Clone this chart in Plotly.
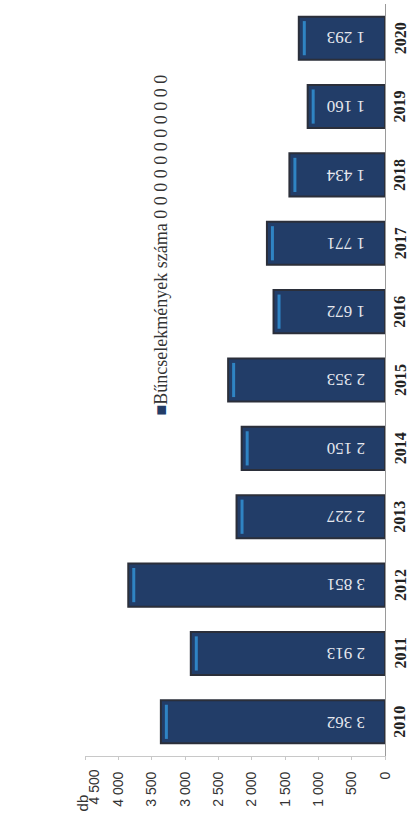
import plotly.graph_objects as go

years = ["2010", "2011", "2012", "2013", "2014", "2015", "2016", "2017", "2018", "2019", "2020"]
values = [3362, 2913, 3851, 2227, 2150, 2353, 1672, 1771, 1434, 1160, 1293]
value_labels = ["3 362", "2 913", "3 851", "2 227", "2 150", "2 353", "1 672", "1 771", "1 434", "1 160", "1 293"]
tick_vals = [0, 500, 1000, 1500, 2000, 2500, 3000, 3500, 4000, 4500]
tick_text = ["0", "500", "1 000", "1 500", "2 000", "2 500", "3 000", "3 500", "4 000", "4 500"]
series_name = "Bűncselekmények száma"
legend_suffix = "0 0 0 0 0 0 0 0 0 0 0"
axis_title = "db"

tick_font = dict(family="Liberation Sans", size=14, color="#333333")

fig = go.Figure()
fig.add_trace(go.Bar(
    y=years, x=values, orientation="h", width=0.63,
    marker=dict(color="#223d68", line=dict(color="#2b2f3a", width=2)),
    name=series_name, showlegend=False, hoverinfo="skip",
))
# light highlight stripe near the bar tips
fig.add_trace(go.Bar(
    y=years, x=[45] * len(values), base=[v - 105 for v in values], orientation="h", width=0.5,
    marker=dict(color="#2f84c4", line=dict(width=0)),
    showlegend=False, hoverinfo="skip",
))
fig.update_layout(barmode="overlay")

for i, lab in enumerate(value_labels):
    fig.add_annotation(
        x=0, y=i, xref="x", yref="y", text=lab, showarrow=False,
        textangle=180, xanchor="center", yanchor="middle", xshift=-39,
        font=dict(family="Liberation Serif", size=17, color="#e6e8ee"),
    )
for i, yr in enumerate(years):
    fig.add_annotation(
        x=1, y=i, xref="paper", yref="y", text="<b>" + yr + "</b>", showarrow=False,
        textangle=-90, xanchor="center", yanchor="middle", xshift=15,
        font=dict(family="Liberation Serif", size=16, color="#222222"),
    )

# the outermost value-axis label sits slightly inward, as in the original
fig.add_annotation(
    x=tick_vals[-1], xref="x", yref="paper", y=0, text=tick_text[-1], showarrow=False,
    textangle=-90, xanchor="center", yanchor="top", xshift=8, yshift=-12,
    font=tick_font,
)
fig.add_annotation(
    xref="paper", yref="paper", x=0.253, y=0.68, showarrow=False, textangle=-90,
    xanchor="center", yanchor="middle",
    text='<span style="color:#223d68">■</span>' + series_name + " " + legend_suffix,
    font=dict(family="Liberation Serif", size=18, color="#333333"),
)
fig.add_annotation(
    xref="paper", yref="paper", x=-0.01, y=-0.063, showarrow=False, textangle=-90,
    xanchor="center", yanchor="middle", text=axis_title,
    font=dict(family="Liberation Sans", size=15, color="#333333"),
)

fig.update_xaxes(
    range=[4500, 0], tickvals=tick_vals, ticktext=tick_text[:-1] + [""], tickangle=-90,
    ticklabelstandoff=6,
    showgrid=False, zeroline=False, showline=True, linecolor="#c8c8c8", linewidth=1,
    ticks="outside", ticklen=3, tickcolor="#c8c8c8", automargin=False,
    tickfont=tick_font,
)
fig.update_yaxes(
    type="category", categoryorder="array", categoryarray=years, range=[-0.5, 10.5], side="right",
    showticklabels=False, showgrid=False, zeroline=False, showline=True, linecolor="#9a9a9a", linewidth=1,
    ticks="", automargin=False,
)
fig.update_layout(
    width=411, height=814, margin=dict(l=85, r=26, t=4, b=58),
    paper_bgcolor="white", plot_bgcolor="white", showlegend=False,
)
fig.write_html("out.html", config={"displayModeBar": False},
               post_script="document.body.style.margin='0';")
